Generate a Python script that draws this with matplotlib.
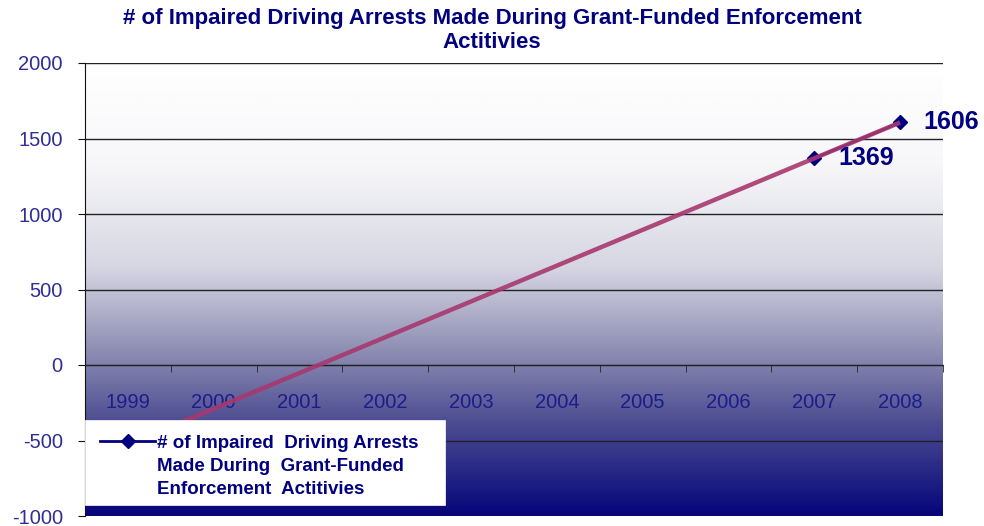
import numpy as np
import matplotlib
matplotlib.use("Agg")
import matplotlib.pyplot as plt
from matplotlib.colors import LinearSegmentedColormap
from matplotlib.patches import Rectangle
from matplotlib.lines import Line2D

# Data
years = ["1999", "2000", "2001", "2002", "2003", "2004", "2005", "2006", "2007", "2008"]
arrests = [np.nan, np.nan, np.nan, np.nan, np.nan, np.nan, np.nan, np.nan, 1369, 1606]
series_name = "# of Impaired  Driving Arrests\nMade During  Grant-Funded\nEnforcement  Actitivies"
title = "# of Impaired Driving Arrests Made During Grant-Funded Enforcement\nActitivies"
y_ticks = [-1000, -500, 0, 500, 1000, 1500, 2000]

NAVY = "#000080"
TICK_BLUE = "#2e2e96"
TREND = "#a8386e"

W, H = 984, 526
fig = plt.figure(figsize=(W / 100, H / 100), dpi=100)
ax_l, ax_r, ax_t, ax_b = 85, 943, 63, 516
ax = fig.add_axes([ax_l / W, (H - ax_b) / H, (ax_r - ax_l) / W, (ax_b - ax_t) / H])

x = np.arange(len(years))
y = np.array(arrests, dtype=float)

ax.set_xlim(-0.5, len(years) - 0.5)

# Plot-area gradient: white at the top fading to navy at the bottom
stops = [(0.0, (1.0, 1.0, 1.0)),
         (0.22, (0.97, 0.97, 0.98)),
         (0.45, (0.84, 0.84, 0.89)),
         (0.62, (0.58, 0.58, 0.72)),
         (0.78, (0.32, 0.32, 0.58)),
         (1.0, (0.02, 0.02, 0.48))]
cmap = LinearSegmentedColormap.from_list("bg", stops)
grad = np.linspace(0, 1, 512).reshape(-1, 1)
ax.imshow(grad, cmap=cmap, aspect="auto", extent=(-0.5, len(years) - 0.5, -1000, 2000),
          origin="upper", zorder=0, interpolation="bilinear")
ax.set_ylim(-1000, 2000)

# Gridlines
for yt in y_ticks:
    ax.axhline(yt, color="#222222", lw=1.0, zorder=1)

# Series
mask = ~np.isnan(y)
ax.plot(x[mask], y[mask], color=NAVY, lw=2, marker="D", ms=7.5, mec=NAVY, mfc=NAVY,
        zorder=3)

# Linear trend across all categories
coef = np.polyfit(x[mask], y[mask], 1)
ax.plot(x, np.polyval(coef, x), color=TREND, lw=3.2, alpha=0.9, zorder=4,
        solid_capstyle="butt")

# Value labels
for xi, yi in zip(x[mask], y[mask]):
    ax.annotate(f"{int(yi)}", (xi, yi), xytext=(17, 0), textcoords="offset points",
                ha="left", va="center", fontsize=18, fontweight="bold", color=NAVY,
                family="Liberation Sans", zorder=5)

# Axes styling
for s in ("top", "right"):
    ax.spines[s].set_visible(False)
ax.spines["left"].set_color("#111111")
ax.spines["left"].set_zorder(2)
ax.spines["bottom"].set_position(("data", 0))
ax.spines["bottom"].set_color("#222222")
ax.spines["bottom"].set_zorder(2)

ax.set_yticks(y_ticks)
ax.set_yticklabels([str(v) for v in y_ticks], color=TICK_BLUE, fontsize=14.5,
                   family="Liberation Sans")
ax.tick_params(axis="y", length=5, color="#111111", pad=11)

ax.set_xticks(x)
ax.set_xticklabels(years, color="#1c1c8c", fontsize=14.5, family="Liberation Sans")
ax.set_xticks(np.arange(-0.5, len(years)), minor=True)
ax.tick_params(axis="x", which="major", length=0, pad=20)
ax.tick_params(axis="x", which="minor", length=5, color="#222222", direction="out")

# Title
fig.text(492 / W, 1 - 8 / H, title, ha="center", va="top", fontsize=16, fontweight="bold",
         color=NAVY, family="Liberation Sans", linespacing=1.2)

# Legend box (drawn in pixel-derived axes fractions)
def ax_frac(px, py):
    return ((px - ax_l) / (ax_r - ax_l), (ax_b - py) / (ax_b - ax_t))

bx0, by0 = ax_frac(85, 505)
bx1, by1 = ax_frac(445, 420)
ax.add_patch(Rectangle((bx0, by0), bx1 - bx0, by1 - by0, transform=ax.transAxes,
                       facecolor="white", edgecolor="white", lw=0.5, zorder=6,
                       clip_on=False))
hx0, hy = ax_frac(100, 441)
hx1, _ = ax_frac(155, 441)
ax.add_line(Line2D([hx0, hx1], [hy, hy], transform=ax.transAxes, color=NAVY, lw=2,
                   zorder=7, clip_on=False))
mx, _ = ax_frac(128, 441)
ax.add_line(Line2D([mx], [hy], transform=ax.transAxes, marker="D", ms=7, color=NAVY,
                   zorder=7, clip_on=False))
tx, ty = ax_frac(157, 435)
ax.text(tx, ty, series_name, transform=ax.transAxes, ha="left", va="top",
        fontsize=13.5, fontweight="bold", color=NAVY, family="Liberation Sans",
        linespacing=1.45, zorder=8, clip_on=False)

fig.savefig("out.png", dpi=100)
